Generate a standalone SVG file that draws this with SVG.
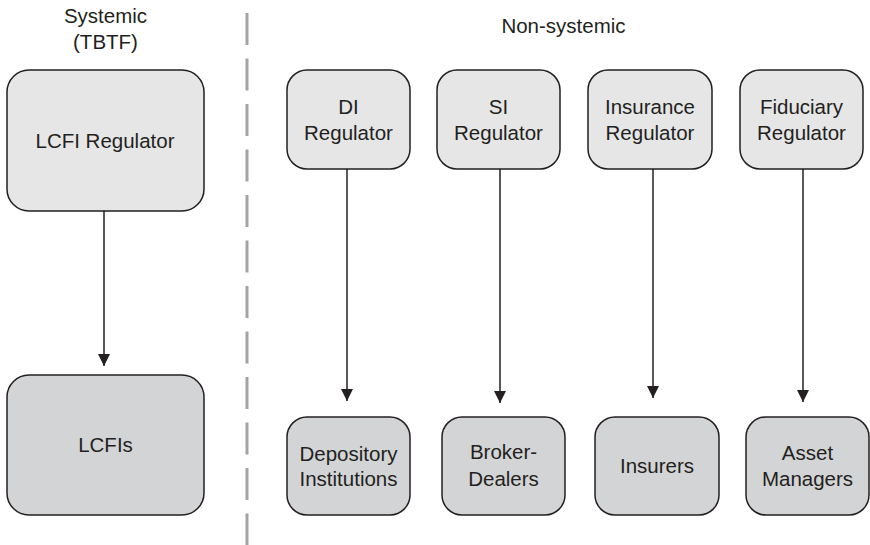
<svg xmlns="http://www.w3.org/2000/svg" width="870" height="545" viewBox="0 0 870 545">
<defs>
<style>
text{font-family:"Liberation Sans",Arial,Helvetica,sans-serif;font-size:20.5px;fill:#231f20;text-anchor:middle}
.top{fill:#e6e6e7;stroke:#231f20;stroke-width:1.5}
.bot{fill:#d3d4d6;stroke:#231f20;stroke-width:1.5}
.conn{stroke:#231f20;stroke-width:1.5;fill:none}
</style>
<marker id="ah" viewBox="0 0 12 12" markerWidth="12" markerHeight="12" refX="12" refY="6" orient="auto" markerUnits="userSpaceOnUse">
<path d="M0,0 L12,6 L0,12 Z" fill="#231f20"/>
</marker>
</defs>
<rect width="870" height="545" fill="#ffffff"/>
<line x1="247" y1="13" x2="247" y2="545" stroke="#a3a3a3" stroke-width="3" stroke-dasharray="32 13.5"/>
<text x="105.5" y="23">Systemic</text>
<text x="105.5" y="49">(TBTF)</text>
<text x="563.5" y="33">Non-systemic</text>
<g id="connectors">
<line class="conn" x1="104" y1="211" x2="104" y2="366" marker-end="url(#ah)"/>
<line class="conn" x1="347" y1="169" x2="347" y2="401" marker-end="url(#ah)"/>
<line class="conn" x1="500" y1="169" x2="500" y2="403" marker-end="url(#ah)"/>
<line class="conn" x1="653" y1="169" x2="653" y2="398" marker-end="url(#ah)"/>
<line class="conn" x1="803" y1="169" x2="803" y2="402" marker-end="url(#ah)"/>
</g>
<g id="lcfi-regulator"><rect class="top" x="7" y="70" width="197" height="141" rx="22"/><text x="105" y="148">LCFI Regulator</text></g>
<g id="lcfis"><rect class="bot" x="7" y="375" width="197" height="140" rx="22"/><text x="105.5" y="452">LCFIs</text></g>
<g id="di-regulator"><rect class="top" x="287" y="70" width="123" height="99" rx="20"/><text x="348.5" y="114">DI</text><text x="348.5" y="140">Regulator</text></g>
<g id="si-regulator"><rect class="top" x="437" y="70" width="123" height="99" rx="20"/><text x="498.5" y="114">SI</text><text x="498.5" y="140">Regulator</text></g>
<g id="insurance-regulator"><rect class="top" x="588" y="70" width="124" height="99" rx="20"/><text x="650" y="114">Insurance</text><text x="650" y="140">Regulator</text></g>
<g id="fiduciary-regulator"><rect class="top" x="740" y="70" width="123" height="99" rx="20"/><text x="801.5" y="114">Fiduciary</text><text x="801.5" y="140">Regulator</text></g>
<g id="depository"><rect class="bot" x="287" y="417" width="123" height="98" rx="20"/><text x="348.5" y="461">Depository</text><text x="348.5" y="486">Institutions</text></g>
<g id="broker-dealers"><rect class="bot" x="442" y="417" width="123" height="98" rx="20"/><text x="503.5" y="459">Broker-</text><text x="503.5" y="485.5">Dealers</text></g>
<g id="insurers"><rect class="bot" x="595" y="417" width="124" height="98" rx="20"/><text x="657" y="472.5">Insurers</text></g>
<g id="asset-managers"><rect class="bot" x="746" y="417" width="123" height="98" rx="20"/><text x="807.5" y="460">Asset</text><text x="807.5" y="485.5">Managers</text></g>
</svg>
